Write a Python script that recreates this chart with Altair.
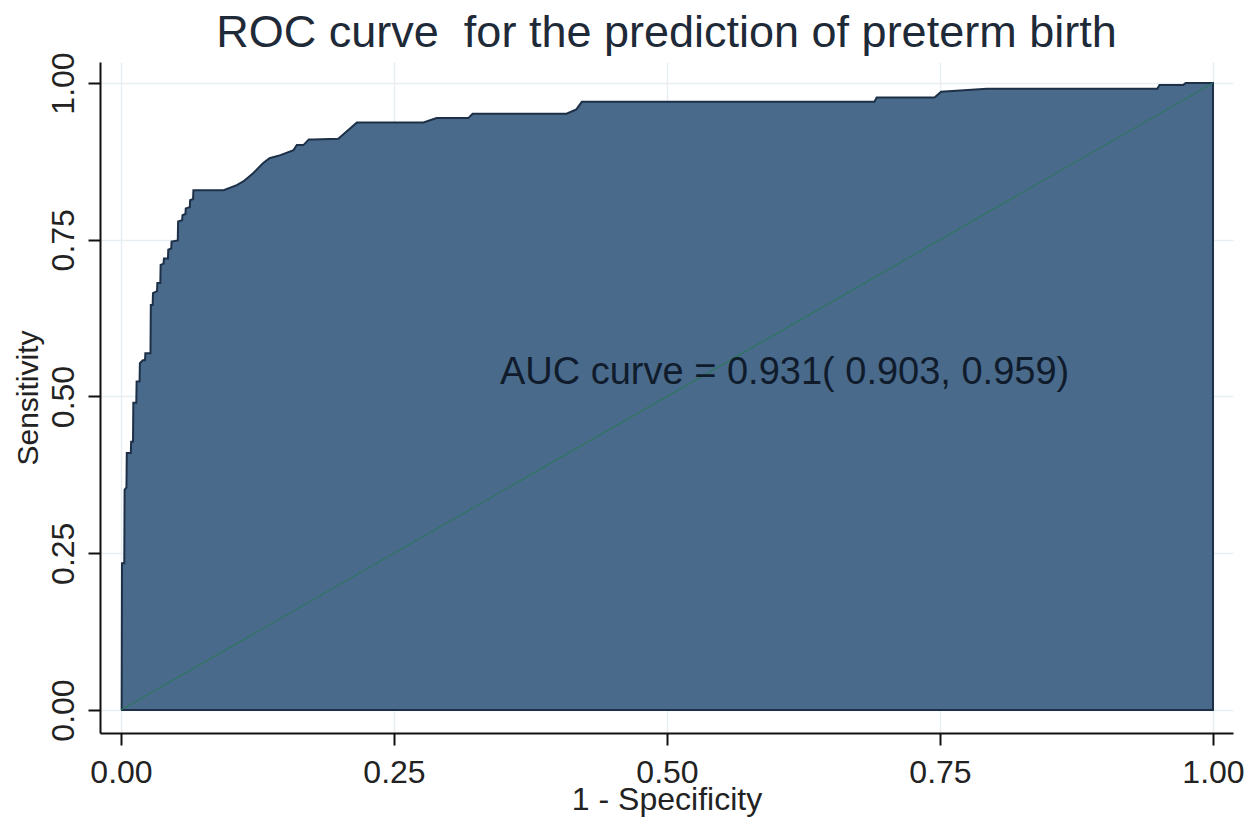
import altair as alt
import pandas as pd

# ROC curve vertices (1 - specificity, sensitivity)
fpr = [0.0, 0.0006, 0.0009, 0.003, 0.0033, 0.005, 0.0053, 0.009, 0.0093, 0.011, 0.0113,
       0.014, 0.0143, 0.017, 0.0173, 0.020, 0.022, 0.0223, 0.027, 0.0273, 0.029, 0.0293,
       0.033, 0.0333, 0.036, 0.0363, 0.039, 0.0393, 0.043, 0.0433, 0.046, 0.0463, 0.052,
       0.0523, 0.056, 0.0563, 0.059, 0.0593, 0.063, 0.0633, 0.066, 0.0663, 0.094, 0.106,
       0.112, 0.121, 0.130, 0.136, 0.146, 0.158, 0.161, 0.167, 0.172, 0.176, 0.199,
       0.216, 0.277, 0.289, 0.318, 0.322, 0.408, 0.417, 0.422, 0.690, 0.692, 0.745,
       0.751, 0.793, 0.949, 0.951, 0.973, 0.975, 1.0]
tpr = [0.0, 0.0, 0.234, 0.234, 0.351, 0.355, 0.41, 0.41, 0.428, 0.428, 0.49,
       0.49, 0.524, 0.524, 0.553, 0.558, 0.558, 0.569, 0.569, 0.646, 0.646, 0.665,
       0.668, 0.681, 0.681, 0.71, 0.712, 0.72, 0.72, 0.734, 0.736, 0.747, 0.749,
       0.779, 0.781, 0.789, 0.791, 0.80, 0.802, 0.813, 0.815, 0.829, 0.829, 0.837,
       0.843, 0.856, 0.872, 0.88, 0.885, 0.893, 0.901, 0.901, 0.910, 0.910, 0.911,
       0.937, 0.937, 0.944, 0.944, 0.951, 0.951, 0.958, 0.970, 0.970, 0.977, 0.977,
       0.986, 0.991, 0.991, 0.997, 0.997, 1.0, 1.0]

diag_x = [0.0, 1.0]
diag_y = [0.0, 1.0]

tick_values = [0.0, 0.25, 0.5, 0.75, 1.0]
auc_label = ["AUC curve = 0.931( 0.903, 0.959)"]
auc_pos_x = [0.347]
auc_pos_y = [0.537]

title_text = "ROC curve \u00a0for the prediction of preterm birth"

FONT = "Liberation Sans, Arial, Helvetica, sans-serif"

roc = pd.DataFrame({"fpr": fpr, "tpr": tpr})
diag = pd.DataFrame({"fpr": diag_x, "tpr": diag_y})
ann = pd.DataFrame({"fpr": auc_pos_x, "tpr": auc_pos_y, "label": auc_label})

x_dom = [-0.01923, 1.01832]
y_dom = [-0.03668, 1.03349]

x_axis = alt.Axis(values=tick_values, format=".2f", title="1 - Specificity",
                  labelFontSize=32, labelPadding=12, titleFontSize=32,
                  titlePadding=-4, tickSize=12, tickWidth=2, domainWidth=2,
                  domainColor="#111111", tickColor="#111111", gridColor="#e6eef1",
                  gridWidth=1.5, labelColor="#222222", titleColor="#222222",
                  labelFont=FONT, titleFont=FONT, titleFontWeight="normal")
y_axis = alt.Axis(values=tick_values, format=".2f", title="Sensitivity",
                  labelFontSize=32, labelAngle=270, labelAlign="center",
                  labelBaseline="bottom", labelPadding=8, titleFontSize=30,
                  titlePadding=4, tickSize=12, tickWidth=2, domainWidth=2,
                  domainColor="#111111", tickColor="#111111", gridColor="#e6eef1",
                  gridWidth=1.5, labelColor="#222222", titleColor="#222222",
                  labelFont=FONT, titleFont=FONT, titleFontWeight="normal")

xs = alt.Scale(domain=x_dom, nice=False, zero=False)
ys = alt.Scale(domain=y_dom, nice=False, zero=False)

area = alt.Chart(roc).mark_area(
    color="#496a8b", stroke="#1d3047", strokeWidth=2, opacity=1, fillOpacity=1
).encode(
    x=alt.X("fpr:Q", scale=xs, axis=x_axis),
    y=alt.Y("tpr:Q", scale=ys, axis=y_axis),
)

line = alt.Chart(diag).mark_line(color="#2f7560", strokeWidth=1.2).encode(
    x=alt.X("fpr:Q", scale=xs),
    y=alt.Y("tpr:Q", scale=ys),
)

text = alt.Chart(ann).mark_text(
    align="left", baseline="middle", fontSize=38, font=FONT, color="#101c2c"
).encode(
    x=alt.X("fpr:Q", scale=xs),
    y=alt.Y("tpr:Q", scale=ys),
    text="label:N",
)

chart = alt.layer(area, line, text).properties(
    width=1133,
    height=671,
    title=alt.TitleParams(title_text, fontSize=45, font=FONT, fontWeight="normal",
                          color="#1f2a38", anchor="middle", offset=16, dy=20),
    autosize=alt.AutoSizeParams(type="none"),
    padding={"left": 92, "top": 54, "right": 13, "bottom": 85},
    background="white",
).configure_view(stroke=None)

chart.save("out.html", embed_options={"renderer": "svg", "actions": False})
